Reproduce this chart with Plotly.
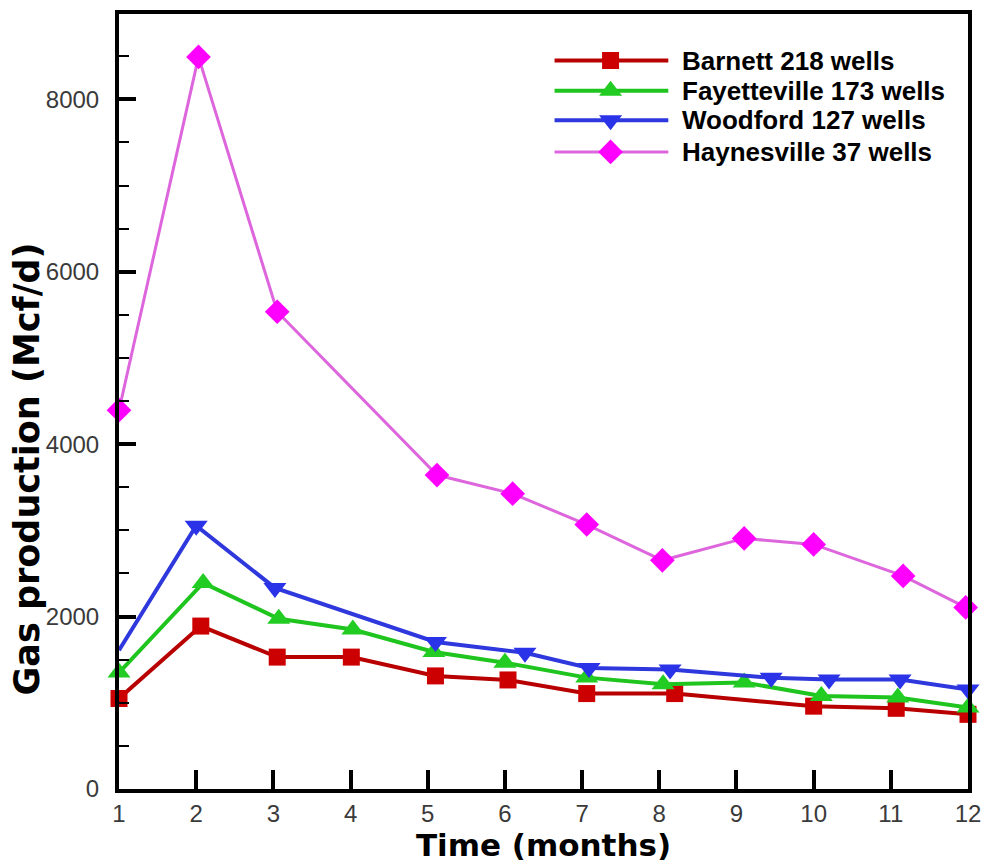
import plotly.graph_objects as go

# ---------------- data ----------------
barnett_x = [1.0, 2.06, 3.05, 4.01, 5.10, 6.04, 7.06, 8.20, 10.0, 11.07, 12.0]
barnett_y = [1050, 1890, 1530, 1530, 1312, 1265, 1107, 1107, 961, 936, 866]

fayetteville_x = [1.0, 2.09, 3.07, 4.03, 5.08, 6.0, 7.06, 8.05, 9.10, 10.1, 11.09, 12.0]
fayetteville_y = [1350, 2390, 1975, 1850, 1590, 1465, 1292, 1215, 1235, 1080, 1062, 945]

woodford_x = [1.0, 2.0, 3.02, 5.10, 6.26, 7.09, 8.14, 9.45, 10.2, 11.12, 12.0]
woodford_y = [1610, 3055, 2333, 1705, 1580, 1405, 1387, 1290, 1270, 1270, 1155]

haynesville_x = [1.0, 2.03, 3.05, 5.12, 6.10, 7.06, 8.04, 9.10, 10.0, 11.16, 11.97]
haynesville_y = [4394, 8492, 5536, 3642, 3426, 3068, 2653, 2907, 2837, 2472, 2106]

series_names = ["Barnett 218 wells", "Fayetteville 173 wells",
                "Woodford 127 wells", "Haynesville 37 wells"]

x_tick_labels = [str(i) for i in range(1, 13)]
y_tick_values = [0, 2000, 4000, 6000, 8000]

x_title = "Time (months)"
y_title = "Gas production (Mcf/d)"

# ---------------- styles ----------------
styles = [
    dict(line="#B80000", marker="#CC0000", symbol="square", size=17, width=4),
    dict(line="#1FC41F", marker="#22CC22", symbol="triangle-up", size=20, width=4),
    dict(line="#2E38DC", marker="#2B33E8", symbol="triangle-down", size=20, width=4),
    dict(line="#DD66DD", marker="#FF00FF", symbol="diamond", size=19, width=3),
]

xs = [barnett_x, fayetteville_x, woodford_x, haynesville_x]
ys = [barnett_y, fayetteville_y, woodford_y, haynesville_y]

fig = go.Figure()

for name, x, y, st in zip(series_names, xs, ys, styles):
    sizes = [st["size"]] * len(x)
    if name.startswith("Woodford"):
        sizes[0] = 0  # first Woodford point drawn without a marker
    fig.add_trace(go.Scatter(
        x=x, y=y, mode="lines+markers", name=name, showlegend=False,
        line=dict(color=st["line"], width=st["width"]),
        marker=dict(symbol=st["symbol"], size=sizes, color=st["marker"],
                    opacity=1, line=dict(width=0)),
        cliponaxis=False,
    ))

# ---------------- custom legend (overlay axes in 0..1 units) ----------------
leg_x0, leg_xm, leg_x1 = 0.513, 0.579, 0.647
leg_rows = [0.940, 0.901, 0.863, 0.822]
leg_text_x = 0.661
for name, st, ry in zip(series_names, styles, leg_rows):
    fig.add_trace(go.Scatter(
        x=[leg_x0, leg_xm, leg_x1], y=[ry, ry, ry], mode="lines+markers",
        xaxis="x2", yaxis="y2", showlegend=False, hoverinfo="skip",
        line=dict(color=st["line"], width=st["width"]),
        marker=dict(symbol=st["symbol"], size=[0, st["size"], 0],
                    color=st["marker"], opacity=1, line=dict(width=0)),
    ))
    fig.add_annotation(
        x=leg_text_x, y=ry, xref="x2", yref="y2", text=name, showarrow=False,
        xanchor="left", yanchor="middle",
        font=dict(family="Liberation Sans", size=26, color="black", weight="bold"),
    )

tick_font = dict(family="Liberation Sans", size=24, color="#3a3a3a")
title_font = dict(family="DejaVu Sans", size=31, color="black", weight="bold")

fig.add_annotation(
    x=-0.109, y=0.413, xref="paper", yref="paper", text=y_title, showarrow=False,
    textangle=-90, xanchor="center", yanchor="middle",
    font=dict(family="DejaVu Sans", size=35, color="black", weight="bold"),
)

fig.update_layout(
    width=991, height=864,
    margin=dict(l=119, r=16, t=10, b=74),
    paper_bgcolor="white", plot_bgcolor="white",
    showlegend=False,
    xaxis=dict(
        range=[1, 12], tickvals=list(range(1, 13)), ticktext=x_tick_labels,
        ticks="inside", ticklen=19, tickwidth=4, tickcolor="black",
        showline=True, linewidth=4, linecolor="black", mirror=True,
        showgrid=False, zeroline=False, tickfont=tick_font,
        title=dict(text=x_title, font=title_font, standoff=6),
    ),
    yaxis=dict(
        range=[0, 8990], tickvals=y_tick_values,
        ticks="inside", ticklen=17, tickwidth=4, tickcolor="black",
        minor=dict(dtick=500, ticks="inside", ticklen=10, tickwidth=2, tickcolor="black"),
        showline=True, linewidth=4, linecolor="black", mirror=True,
        showgrid=False, zeroline=False, tickfont=tick_font,
        ticklabelstandoff=11,
    ),
    xaxis2=dict(overlaying="x", range=[0, 1], visible=False),
    yaxis2=dict(overlaying="y", range=[0, 1], visible=False),
)

fig.write_html("out.html")
